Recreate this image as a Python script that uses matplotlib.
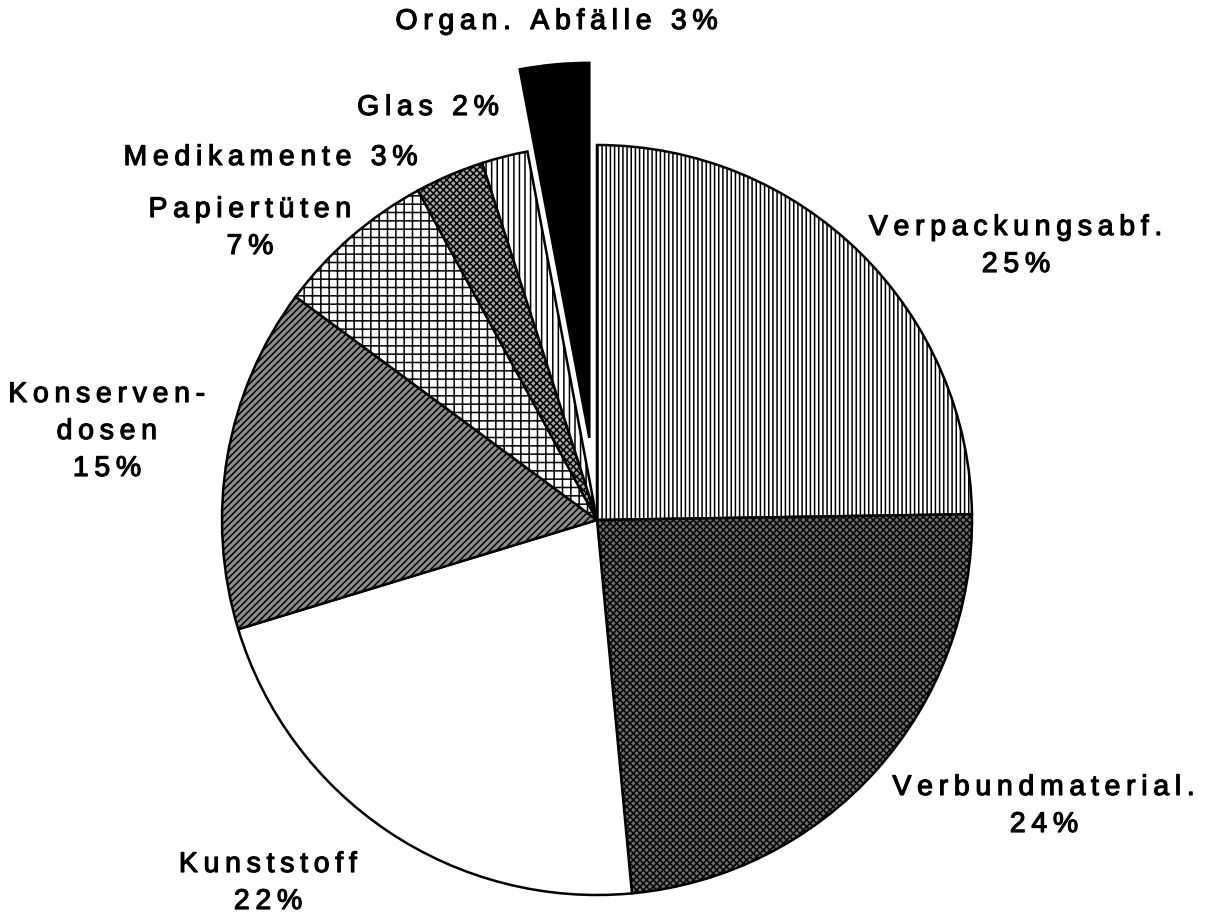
import numpy as np
import matplotlib
matplotlib.use("Agg")
import matplotlib.pyplot as plt
import matplotlib.patheffects as pe

# data
categories = ["Verpackungsabf.", "Verbundmaterial.", "Kunststoff", "Konserven-\ndosen",
              "Papiertüten", "Medikamente", "Glas", "Organ. Abfälle"]
shares = [25, 24, 22, 15, 7, 3, 2, 3]
pct_labels = ["25%", "24%", "22%", "15%", "7%", "3%", "2%", "3%"]

# styling per wedge
hatches = ["||||", "xxxxx", "", "/////", "++", "xxxxx", "|||", ""]
faces = ["white", "#6e6e6e", "white", "#8c8c8c", "white", "#a8a8a8", "white", "black"]
explode = [0, 0, 0, 0, 0, 0, 0, 0.22]

# label layout in pixels (x center, y of first line), and whether pct goes inline
label_pos = [(1016, 228, False), (1044, 788, False), (268, 865, False), (107, 395, False),
             (250, 210, False), (271, 158, True), (428, 108, True), (557, 22, True)]

W, H, R = 1213, 919, 375
cx, cy = 597, 520

plt.rcParams['font.family'] = ['Liberation Sans', 'DejaVu Sans']
plt.rcParams['hatch.linewidth'] = 1.1

fig = plt.figure(figsize=(W / 100, H / 100), dpi=100)
ax = fig.add_axes([0, 0, 1, 1])

wedges, _ = ax.pie(shares, startangle=90, counterclock=False, explode=explode,
                   colors=faces, wedgeprops=dict(edgecolor='black', linewidth=1.8))
for w, h in zip(wedges, hatches):
    w.set_hatch(h)

# pie() resets the limits, so set them afterwards
ax.set_xlim(-cx / R, (W - cx) / R)
ax.set_ylim(-(H - cy) / R, cy / R)
ax.set_aspect('auto')
ax.axis('off')


def spaced(s):
    return "\u2009".join(s)


line_h = 37
for name, pct, (x, y, inline) in zip(categories, pct_labels, label_pos):
    if inline:
        lines = [name + " " + pct]
    else:
        lines = name.split("\n") + [pct]
    for i, ln in enumerate(lines):
        fig.text(x / W, 1 - (y + i * line_h) / H, spaced(ln), ha='center', va='center',
                 fontsize=20.5, color='black',
                 path_effects=[pe.withStroke(linewidth=0.85, foreground='black')])

fig.savefig("out.png", dpi=100)
